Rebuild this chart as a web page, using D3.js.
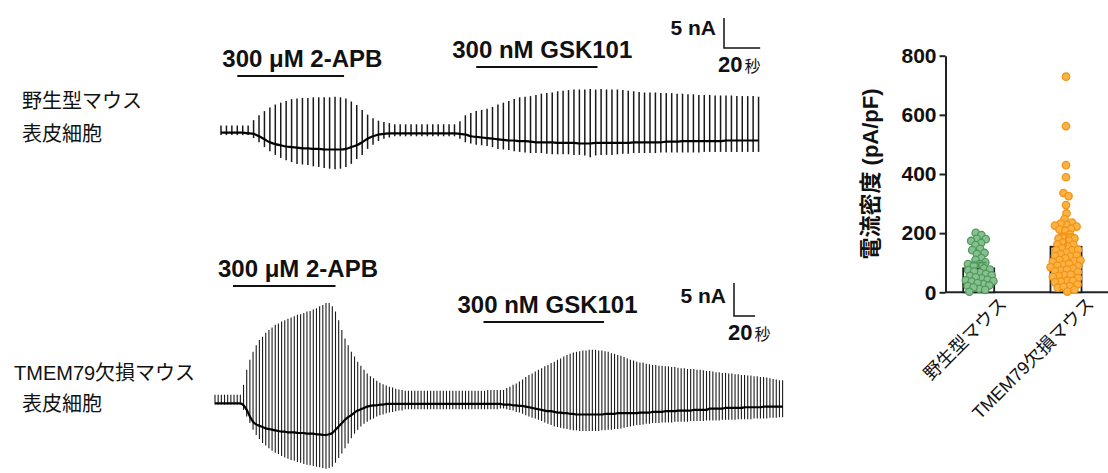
<!DOCTYPE html>
<html>
<head>
<meta charset="utf-8">
<script src="https://cdn.jsdelivr.net/npm/d3@7"></script>
<style>
body { margin: 0; background: #fff; }
text { font-family: "Liberation Sans", Arial, "Noto Sans CJK JP", sans-serif; fill: #111; }
.bold { font-weight: 700; }
</style>
</head>
<body>
<svg id="fig" width="1108" height="473"></svg>
<script>
// one ramp sweep every 3 s
var SWEEP_S = 3;

// wild-type cell, current per sweep (nA): holding, outward peak, inward peak
var wtHold = [0,0,0,0,0,-0.1,-0.2,-0.6,-1.1,-1.6,
  -1.9,-2.1,-2.3,-2.4,-2.5,-2.6,-2.6,-2.7,-2.7,-2.8,
  -2.8,-2.8,-2.8,-2.7,-2.4,-2.1,-1.6,-1.0,-0.6,-0.3,
  -0.2,-0.1,-0.1,-0.1,-0.1,-0.1,-0.1,-0.1,-0.1,-0.1,
  -0.1,-0.1,-0.1,-0.1,-0.2,-0.3,-0.6,-0.7,-0.8,-0.9,
  -1.0,-1.1,-1.2,-1.3,-1.3,-1.4,-1.4,-1.5,-1.6,-1.6,
  -1.6,-1.6,-1.7,-1.7,-1.7,-1.7,-1.8,-1.8,-1.8,-1.7,
  -1.7,-1.7,-1.7,-1.7,-1.7,-1.7,-1.6,-1.6,-1.6,-1.6,
  -1.6,-1.6,-1.5,-1.5,-1.5,-1.4,-1.4,-1.4,-1.4,-1.4,
  -1.4,-1.4,-1.4,-1.3,-1.3,-1.3,-1.3,-1.3,-1.3,-1.3];
var wtUp = [1.2,1.2,1.2,1.2,1.2,1.2,2.1,2.9,3.6,4.2,
  4.7,5.0,5.3,5.6,5.7,5.8,5.8,5.9,5.9,5.9,
  5.9,6.0,5.9,5.7,5.2,4.6,3.8,3.0,2.4,2.0,
  1.8,1.6,1.4,1.4,1.4,1.4,1.4,1.4,1.4,1.4,
  1.4,1.4,1.4,1.4,1.9,2.9,3.3,3.6,3.8,4.0,
  4.3,4.7,5.0,5.3,5.6,5.9,6.0,6.1,6.3,6.5,
  6.6,6.7,6.9,7.0,7.1,7.2,7.2,7.2,7.3,7.2,
  7.3,7.2,7.2,7.2,7.1,7.0,6.9,6.8,6.7,6.7,
  6.7,6.6,6.6,6.6,6.5,6.5,6.4,6.4,6.3,6.3,
  6.3,6.2,6.2,6.2,6.2,6.1,6.1,6.1,6.1,6.0];
var wtDown = [-0.4,-0.4,-0.4,-0.4,-0.4,-0.4,-0.9,-1.6,-2.4,-3.1,
  -3.7,-4.2,-4.6,-4.9,-5.2,-5.3,-5.4,-5.6,-5.7,-5.9,
  -6.0,-6.1,-6.0,-5.7,-5.2,-4.4,-3.7,-2.7,-2.0,-1.4,
  -1.0,-0.8,-0.6,-0.6,-0.6,-0.6,-0.6,-0.6,-0.6,-0.6,
  -0.6,-0.6,-0.6,-0.6,-1.0,-1.6,-1.8,-2.0,-2.1,-2.2,
  -2.4,-2.7,-2.8,-2.9,-3.1,-3.2,-3.3,-3.4,-3.4,-3.4,
  -3.5,-3.6,-3.6,-3.6,-3.6,-3.7,-3.7,-3.8,-4.1,-3.8,
  -3.7,-3.7,-3.7,-3.6,-3.5,-3.5,-3.4,-3.4,-3.4,-3.4,
  -3.4,-3.3,-3.3,-3.3,-3.3,-3.3,-3.3,-3.3,-3.3,-3.2,
  -3.2,-3.2,-3.2,-3.2,-3.2,-3.2,-3.2,-3.2,-3.2,-3.2];

// TMEM79 knockout cell
var koHold = [0,0,0,0,0,0,0,0,0,-0.3,
  -1.0,-2.0,-2.8,-3.2,-3.4,-3.6,-3.8,-3.9,-4.0,-4.1,
  -4.2,-4.3,-4.3,-4.4,-4.4,-4.4,-4.5,-4.5,-4.5,-4.6,
  -4.6,-4.6,-4.7,-4.7,-4.8,-4.8,-4.7,-4.5,-4.0,-3.5,
  -3.0,-2.5,-2.1,-1.8,-1.4,-1.1,-0.9,-0.7,-0.5,-0.4,
  -0.3,-0.3,-0.2,-0.2,-0.1,-0.1,-0.1,-0.1,-0.1,-0.1,
  -0.1,-0.1,-0.1,-0.1,-0.1,-0.1,-0.1,-0.1,-0.1,-0.1,
  -0.1,-0.1,-0.1,-0.1,-0.1,-0.1,-0.1,-0.1,-0.1,-0.1,
  -0.1,-0.1,-0.1,-0.1,-0.1,-0.1,-0.1,-0.1,-0.1,-0.1,
  -0.1,-0.2,-0.2,-0.2,-0.3,-0.3,-0.4,-0.4,-0.5,-0.6,
  -0.7,-0.8,-0.9,-1.0,-1.1,-1.2,-1.2,-1.3,-1.4,-1.4,
  -1.5,-1.5,-1.6,-1.6,-1.7,-1.7,-1.7,-1.7,-1.7,-1.7,
  -1.7,-1.7,-1.7,-1.6,-1.6,-1.6,-1.6,-1.5,-1.5,-1.5,
  -1.5,-1.5,-1.5,-1.5,-1.4,-1.4,-1.4,-1.4,-1.3,-1.3,
  -1.3,-1.3,-1.2,-1.2,-1.2,-1.2,-1.1,-1.1,-1.1,-1.1,
  -1.1,-1.0,-1.0,-1.0,-1.0,-1.0,-0.8,-0.8,-0.8,-0.8,
  -0.8,-0.7,-0.7,-0.7,-0.7,-0.7,-0.7,-0.6,-0.6,-0.6,
  -0.6,-0.6,-0.6,-0.5,-0.5,-0.5,-0.5,-0.5,-0.5,-0.5];
var koUp = [1.3,1.3,1.3,1.3,1.3,1.3,1.3,1.3,1.3,2.8,
  5.1,6.6,7.8,8.8,9.6,10.1,10.7,11.1,11.5,11.9,
  12.1,12.4,12.6,12.8,13.0,13.2,13.4,13.5,13.7,13.9,
  14.0,14.2,14.4,14.7,14.9,15.2,15.2,14.7,13.9,12.6,
  11.1,9.8,8.8,7.8,7.1,6.3,5.7,5.1,4.5,4.1,
  3.8,3.4,3.1,2.9,2.7,2.5,2.4,2.2,2.1,2.0,
  1.9,1.9,1.9,1.9,1.9,1.9,1.9,1.9,1.9,1.9,
  1.9,1.9,1.9,1.9,1.9,1.9,1.9,1.9,1.9,1.9,
  1.9,1.9,1.9,1.9,1.9,1.9,2.0,2.0,2.0,2.0,
  2.0,2.0,2.3,2.5,2.8,3.0,3.3,3.6,4.0,4.3,
  4.5,4.8,5.1,5.3,5.6,5.8,6.1,6.3,6.6,6.8,
  7.1,7.3,7.5,7.7,7.8,7.9,8.0,8.0,8.1,8.1,
  8.1,8.0,8.0,7.9,7.8,7.6,7.5,7.3,7.2,7.0,
  6.8,6.6,6.5,6.3,6.2,6.2,6.0,5.9,5.8,5.8,
  5.7,5.7,5.6,5.6,5.5,5.5,5.4,5.3,5.3,5.2,
  5.2,5.2,5.1,5.1,5.0,4.9,4.9,4.8,4.7,4.7,
  4.6,4.6,4.5,4.5,4.4,4.4,4.3,4.3,4.2,4.2,
  4.1,4.1,4.0,4.0,3.9,3.8,3.7,3.6,3.5,3.5];
var koDown = [-0.2,-0.2,-0.2,-0.2,-0.2,-0.2,-0.2,-0.2,-0.2,-1.0,
  -2.0,-3.0,-4.0,-4.8,-5.4,-6.0,-6.4,-6.8,-7.2,-7.5,
  -7.7,-8.0,-8.2,-8.4,-8.6,-8.7,-8.9,-9.0,-9.2,-9.3,
  -9.4,-9.5,-9.6,-9.7,-9.8,-9.9,-9.8,-9.6,-9.0,-8.3,
  -7.6,-6.8,-6.1,-5.3,-4.6,-4.0,-3.5,-3.1,-2.8,-2.5,
  -2.3,-2.0,-1.8,-1.7,-1.5,-1.4,-1.3,-1.2,-1.1,-1.1,
  -0.9,-0.9,-0.9,-0.9,-0.9,-0.9,-0.9,-0.9,-0.9,-0.9,
  -0.9,-0.9,-0.9,-0.9,-0.9,-0.9,-0.9,-0.9,-0.9,-0.9,
  -0.9,-0.9,-0.9,-0.9,-0.9,-0.9,-0.9,-0.9,-0.9,-0.9,
  -0.8,-0.8,-0.9,-1.0,-1.1,-1.3,-1.4,-1.6,-1.8,-2.0,
  -2.2,-2.3,-2.5,-2.7,-2.9,-3.1,-3.3,-3.5,-3.6,-3.7,
  -3.8,-3.9,-4.0,-4.1,-4.1,-4.2,-4.2,-4.2,-4.2,-4.2,
  -4.2,-4.2,-4.1,-4.1,-4.0,-4.0,-3.9,-3.9,-3.8,-3.7,
  -3.6,-3.5,-3.4,-3.3,-3.3,-3.2,-3.1,-3.1,-3.0,-3.0,
  -3.0,-2.9,-2.9,-2.9,-2.9,-2.8,-2.8,-2.8,-2.8,-2.8,
  -2.7,-2.7,-2.7,-2.7,-2.7,-2.6,-2.6,-2.6,-2.6,-2.6,
  -2.5,-2.5,-2.5,-2.5,-2.5,-2.4,-2.4,-2.4,-2.4,-2.4,
  -2.3,-2.3,-2.3,-2.3,-2.3,-2.2,-2.2,-2.2,-2.1,-2.1];

// drug application windows (s from first sweep)
var drugNames = ["300 μM 2-APB", "300 nM GSK101"];
var wtDrugs = [[9, 68], [141, 208]];
var koDrugs = [[17, 114], [254, 368]];
var scaleBar = {nA: 5, s: 20};

// current density summary (pA/pF)
var groups = ["野生型マウス", "TMEM79欠損マウス"];
var wtDensity = [196,190,186,180,172,166,158,150,142,134,126,118,110,102,
  92,86,82,78,74,70,66,63,60,57,54,51,48,45,42,40,37,34,31,28,25,22,18,14,10];
var koDensity = [729,562,430,389,335,326,295,265,244,232,228,226,224,222,218,212,
  205,198,190,185,178,172,166,160,155,150,146,142,138,135,132,130,128,124,120,
  116,112,108,104,100,96,92,90,88,86,84,80,76,72,68,64,60,56,52,48,45,42,38,34,
  30,26,22,18,12,8];
var groupMean = [81, 154];
var groupErr = [20, 42];
var yTicks = [0, 200, 400, 600, 800];

var svg = d3.select("#fig");

function drawTrace(hold, up, down, o) {
  var g = svg.append("g");
  var tEnd = (hold.length - 1) * SWEEP_S;
  var x = d3.scaleLinear().domain([0, tEnd]).range([o.x0, o.x0 + tEnd * o.pxPerS]);
  var y = d3.scaleLinear().domain([0, 10]).range([o.y0, o.y0 - 10 * o.pxPerNA]);

  g.append("g").selectAll("line")
    .data(hold)
    .enter().append("line")
      .attr("x1", function(d, i) { return x(i * SWEEP_S); })
      .attr("x2", function(d, i) { return x(i * SWEEP_S); })
      .attr("y1", function(d, i) { return y(down[i]); })
      .attr("y2", function(d, i) { return y(up[i]); })
      .attr("stroke", "#1a1a1a")
      .attr("stroke-width", o.spikeW);

  var line = d3.line()
    .x(function(d, i) { return x(i * SWEEP_S); })
    .y(function(d) { return y(d); })
    .curve(d3.curveMonotoneX);
  g.append("path")
    .attr("d", line(hold))
    .attr("fill", "none")
    .attr("stroke", "#000")
    .attr("stroke-width", 2.2);

  // drug bars + labels
  o.drugs.forEach(function(t, k) {
    g.append("line")
      .attr("x1", x(t[0])).attr("x2", x(t[1]))
      .attr("y1", o.barY[k]).attr("y2", o.barY[k])
      .attr("stroke", "#111").attr("stroke-width", 2);
    g.append("text")
      .attr("class", "bold")
      .attr("x", x(t[0]) - o.labelDx[k])
      .attr("y", o.barY[k] - 9)
      .attr("font-size", 24)
      .text(drugNames[k]);
  });

  // scale bar
  var sb = o.sb;
  g.append("path")
    .attr("d", "M" + sb[0] + "," + (sb[1] - (y(0) - y(scaleBar.nA))) +
      "V" + sb[1] + "H" + (sb[0] + x(scaleBar.s) - x(0)))
    .attr("fill", "none").attr("stroke", "#111").attr("stroke-width", 1.5);
  g.append("text").attr("class", "bold")
    .attr("x", sb[0] - 8).attr("y", sb[1] - 13)
    .attr("text-anchor", "end").attr("font-size", 21)
    .text(scaleBar.nA + " nA");
  var st = g.append("text").attr("x", sb[0] - 6).attr("y", sb[1] + 24);
  st.append("tspan").attr("class", "bold").attr("font-size", 22).text(scaleBar.s);
  st.append("tspan").attr("font-size", 16).attr("dx", 2).text("秒");

  // cell label
  o.label.forEach(function(s, k) {
    g.append("text")
      .attr("x", o.labelX[k]).attr("y", o.labelY[k])
      .attr("font-size", 20)
      .text(s);
  });
}

drawTrace(wtHold, wtUp, wtDown, {
  x0: 221, pxPerS: 1.81, y0: 132.7, pxPerNA: 6, spikeW: 1.5,
  drugs: wtDrugs, barY: [76, 67], labelDx: [15, 24],
  sb: [724, 48],
  label: ["野生型マウス", "表皮細胞"], labelX: [22, 22], labelY: [108, 141]
});
drawTrace(koHold, koUp, koDown, {
  x0: 215, pxPerS: 1.057, y0: 403.3, pxPerNA: 6.6, spikeW: 1.1,
  drugs: koDrugs, barY: [286, 322], labelDx: [15, 26],
  sb: [734, 316],
  label: ["TMEM79欠損マウス", "表皮細胞"], labelX: [14, 22], labelY: [380, 411]
});

// ---- current density panel ----
var ys = d3.scaleLinear().domain([0, 800]).range([292.3, 55.7]);
var xs = d3.scalePoint().domain(groups).range([978.7, 1066]);
var panel = svg.append("g");

var yAxis = panel.append("g")
  .attr("transform", "translate(945.5,0)")
  .call(d3.axisLeft(ys).tickValues(yTicks).tickSize(6).tickSizeOuter(0).tickPadding(3));
yAxis.select(".domain").attr("stroke", "#222").attr("stroke-width", 2);
yAxis.selectAll(".tick line").attr("stroke", "#222").attr("stroke-width", 2);
yAxis.selectAll(".tick text")
  .attr("font-size", 21).attr("font-weight", 700)
  .attr("font-family", "Liberation Sans, Arial, sans-serif").attr("fill", "#111");

panel.append("line")
  .attr("x1", 945.5).attr("x2", 1108).attr("y1", ys(0)).attr("y2", ys(0))
  .attr("stroke", "#222").attr("stroke-width", 2);

panel.append("text")
  .attr("class", "bold")
  .attr("transform", "translate(878," + 174 + ") rotate(-90)")
  .attr("text-anchor", "middle").attr("font-size", 22)
  .text("電流密度 (pA/pF)");

var colors = [
  {fill: "#86c08f", stroke: "#52995e"},
  {fill: "#fbb245", stroke: "#f39317"}
];
var barW = 31;

panel.selectAll("rect.bar")
  .data(groups)
  .enter().append("rect")
    .attr("class", "bar")
    .attr("x", function(d) { return xs(d) - barW / 2; })
    .attr("width", barW)
    .attr("y", function(d, i) { return ys(groupMean[i]); })
    .attr("height", function(d, i) { return ys(0) - ys(groupMean[i]); })
    .attr("fill", "#fff").attr("stroke", "#1a1a1a").attr("stroke-width", 1.8);

[wtDensity, koDensity].forEach(function(vals, k) {
  var cx = xs(groups[k]);
  var nodes = vals.map(function(v, i) {
    return {v: v, x: cx + ((i % 2) ? 1 : -1) * (i % 5), y: ys(v)};
  });
  var sim = d3.forceSimulation(nodes)
    .force("x", d3.forceX(cx).strength(0.15))
    .force("y", d3.forceY(function(d) { return ys(d.v); }).strength(1))
    .force("c", d3.forceCollide(3.0))
    .stop();
  for (var t = 0; t < 300; t++) sim.tick();
  panel.append("g").selectAll("circle")
    .data(nodes)
    .enter().append("circle")
      .attr("cx", function(d) { return d.x; })
      .attr("cy", function(d) { return d.y; })
      .attr("r", 3.7)
      .attr("fill", colors[k].fill)
      .attr("stroke", colors[k].stroke)
      .attr("stroke-width", 1.3);

  var top = ys(groupMean[k] + groupErr[k]);
  panel.append("path")
    .attr("d", "M" + cx + "," + ys(groupMean[k]) + "V" + top +
      "M" + (cx - 8) + "," + top + "H" + (cx + 8))
    .attr("stroke", colors[k].stroke).attr("stroke-width", 2).attr("fill", "none");
});

panel.selectAll("text.grp")
  .data(groups)
  .enter().append("text")
    .attr("class", "grp")
    .attr("text-anchor", "end")
    .attr("font-size", 18)
    .attr("transform", function(d) {
      return "translate(" + (xs(d) + 29) + ",305) rotate(-45)";
    })
    .text(function(d) { return d; });
</script>
</body>
</html>
